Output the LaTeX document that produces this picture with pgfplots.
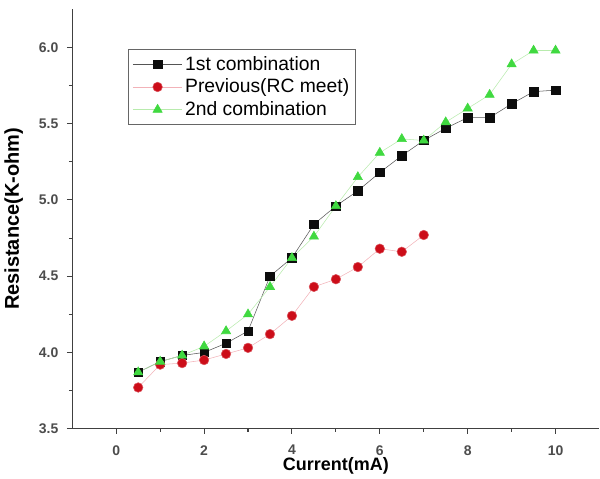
\documentclass[border=0pt]{standalone}
\usepackage{fontspec}
\setmainfont{Liberation Sans}
\usepackage{pgfplots}
\pgfplotsset{compat=1.18}
\definecolor{sqblack}{rgb}{0.05,0.05,0.05}
\definecolor{redmk}{rgb}{0.80,0.05,0.10}
\definecolor{redln}{rgb}{0.95,0.70,0.72}
\definecolor{grnmk}{rgb}{0.25,0.85,0.25}
\definecolor{grnln}{rgb}{0.72,0.92,0.68}
\definecolor{ticktxt}{rgb}{0.30,0.30,0.30}

\begin{document}
\begin{tikzpicture}
\begin{axis}[
  scale only axis,
  width=396pt, height=315pt,
  xmin=-1, xmax=11,
  ymin=3.5, ymax=6.25,
  axis lines=left,
  axis line style={-, thick, black!75},
  xtick={0,2,4,6,8,10},
  ytick={3.5,4.0,4.5,5.0,5.5,6.0},
  minor xtick={1,3,5,7,9},
  minor ytick={3.75,4.25,4.75,5.25,5.75},
  tick align=outside,
  major tick length=4pt, minor tick length=2.5pt,
  tick style={thick, black!75},
  yticklabel style={/pgf/number format/fixed, /pgf/number format/fixed zerofill,
    /pgf/number format/precision=1, xshift=-3pt},
  ticklabel style={font=\fontsize{10.5}{12}\selectfont\bfseries, text=ticktxt},
  xticklabel style={yshift=-5pt},
  /pgf/number format/assume math mode=true,
  xlabel={Current(mA)},
  ylabel={Resistance(K-ohm)},
  xlabel style={font=\fontsize{13.5}{15}\selectfont\bfseries, yshift=5pt},
  ylabel style={font=\fontsize{15}{17}\selectfont\bfseries, yshift=5pt},
  legend style={at={(0.106,0.905)}, anchor=north west,
    draw=black!60, thick, font=\fontsize{14.5}{16}\selectfont,
    row sep=1pt, inner sep=3pt},
  legend cell align=left,
  legend image code/.code={%
    \draw[mark repeat=2, mark phase=2]
      plot coordinates {(0cm,0cm) (0.65cm,0cm) (1.3cm,0cm)};},
  clip=false
]
\path (rel axis cs:0,1) -- ([yshift=7pt]rel axis cs:0,1);
\addplot[sqblack!70, thin, mark=square*, mark size=3.2pt,
  mark options={solid, fill=sqblack, draw=sqblack}]
  coordinates {(0.5,3.87)(1,3.94)(1.5,3.98)(2,4.00)(2.5,4.06)(3,4.14)(3.5,4.50)
  (4,4.62)(4.5,4.84)(5,4.96)(5.5,5.06)(6,5.18)(6.5,5.29)(7,5.39)(7.5,5.47)
  (8,5.54)(8.5,5.54)(9,5.63)(9.5,5.71)(10,5.72)};
\addlegendentry{1st combination}
\addplot[redln, thin, mark=*, mark size=3.6pt,
  mark options={solid, fill=redmk, draw=redmk!70}]
  coordinates {(0.5,3.77)(1,3.92)(1.5,3.93)(2,3.95)(2.5,3.99)(3,4.03)(3.5,4.12)
  (4,4.24)(4.5,4.43)(5,4.48)(5.5,4.56)(6,4.68)(6.5,4.66)(7,4.77)};
\addlegendentry{Previous(RC meet)}
\addplot[grnln, thin, mark=triangle*, mark size=4pt,
  mark options={solid, fill=grnmk, draw=grnmk}]
  coordinates {(0.5,3.87)(1,3.94)(1.5,3.98)(2,4.04)(2.5,4.14)(3,4.25)(3.5,4.43)
  (4,4.62)(4.5,4.76)(5,4.96)(5.5,5.15)(6,5.31)(6.5,5.40)(7,5.39)(7.5,5.51)
  (8,5.60)(8.5,5.69)(9,5.89)(9.5,5.98)(10,5.98)};
\addlegendentry{2nd combination}
\end{axis}
\end{tikzpicture}
\end{document}
